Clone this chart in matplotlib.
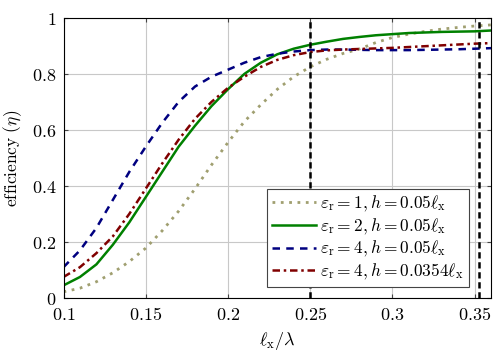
import matplotlib
matplotlib.use("Agg")
import matplotlib.pyplot as plt

plt.rcParams["mathtext.fontset"] = "cm"
plt.rcParams["font.family"] = "serif"
plt.rcParams["font.serif"] = ["DejaVu Serif"]

# x = l_x / lambda
x = [0.10, 0.11, 0.12, 0.13, 0.14, 0.15, 0.16, 0.17, 0.18, 0.19, 0.20, 0.21, 0.22, 0.23,
     0.24, 0.25, 0.26, 0.27, 0.28, 0.29, 0.30, 0.31, 0.32, 0.33, 0.34, 0.35, 0.36]

eff_er1 = [0.022, 0.035, 0.058, 0.09, 0.13, 0.178, 0.24, 0.31, 0.39, 0.475, 0.555, 0.63, 0.69, 0.745,
           0.79, 0.825, 0.852, 0.873, 0.889, 0.912, 0.93, 0.942, 0.952, 0.96, 0.966, 0.971, 0.975]
eff_er2 = [0.045, 0.075, 0.12, 0.19, 0.27, 0.36, 0.45, 0.54, 0.615, 0.685, 0.745, 0.80, 0.84, 0.87,
           0.89, 0.904, 0.915, 0.925, 0.932, 0.938, 0.942, 0.946, 0.948, 0.95, 0.951, 0.952, 0.955]
eff_er4 = [0.11, 0.17, 0.25, 0.35, 0.45, 0.54, 0.625, 0.70, 0.755, 0.79, 0.815, 0.84, 0.86, 0.872,
           0.88, 0.885, 0.887, 0.887, 0.886, 0.885, 0.885, 0.885, 0.886, 0.887, 0.888, 0.89, 0.892]
eff_er4_thin = [0.075, 0.11, 0.16, 0.22, 0.30, 0.39, 0.48, 0.565, 0.64, 0.70, 0.75, 0.79, 0.825, 0.85,
                0.867, 0.878, 0.884, 0.887, 0.889, 0.891, 0.893, 0.896, 0.899, 0.902, 0.905, 0.908, 0.91]

vlines = [0.25, 0.3525]

xticks = [0.1, 0.15, 0.2, 0.25, 0.3, 0.35]
xticklabels = ["0.1", "0.15", "0.2", "0.25", "0.3", "0.35"]
yticks = [0, 0.2, 0.4, 0.6, 0.8, 1]
yticklabels = ["0", "0.2", "0.4", "0.6", "0.8", "1"]

fig = plt.figure(figsize=(5, 3.51), dpi=100)
ax = fig.add_axes([0.127, 0.151, 0.855, 0.798])

ax.plot(x, eff_er1, color="#a09f70", linestyle=(0, (1, 2)), linewidth=2,
        label=r"$\varepsilon_\mathrm{r}=1, h=0.05\ell_\mathrm{x}$")
ax.plot(x, eff_er2, color="#008000", linestyle="-", linewidth=1.8,
        label=r"$\varepsilon_\mathrm{r}=2, h=0.05\ell_\mathrm{x}$")
ax.plot(x, eff_er4, color="#000080", linestyle=(0, (3, 2.5)), linewidth=1.8,
        label=r"$\varepsilon_\mathrm{r}=4, h=0.05\ell_\mathrm{x}$")
ax.plot(x, eff_er4_thin, color="#800000", linestyle=(0, (3, 1.5, 1, 1.5)), linewidth=1.8,
        label=r"$\varepsilon_\mathrm{r}=4, h=0.0354\ell_\mathrm{x}$")

for v in vlines:
    ax.axvline(v, color="black", linestyle=(0, (2.5, 1.5)), linewidth=1.8)

ax.set_xlim(0.1, 0.36)
ax.set_ylim(0, 1)
ax.set_xticks(xticks)
ax.set_xticklabels(["$" + t + "$" for t in xticklabels], fontsize=13)
ax.set_yticks(yticks)
ax.set_yticklabels(["$" + t + "$" for t in yticklabels], fontsize=13)
ax.tick_params(direction="in", length=3, top=True, right=True, color="#444444")
ax.tick_params(axis="x", pad=6)
ax.tick_params(axis="y", pad=5)
ax.grid(True, color="#c8c8c8", linewidth=0.8)
ax.set_axisbelow(True)

ax.set_xlabel(r"$\ell_\mathrm{x}/\lambda$", fontsize=13, labelpad=4)
ax.set_ylabel(r"$\mathrm{efficiency}\ (\eta)$", fontsize=12.5, labelpad=6)

leg = ax.legend(loc="lower right", bbox_to_anchor=(0.96, 0.02), fontsize=12.5,
                fancybox=False, framealpha=1, edgecolor="#444444",
                handlelength=2.5, handletextpad=0.25, borderpad=0.3, labelspacing=0.15,
                borderaxespad=0.3)
leg.get_frame().set_linewidth(0.8)

fig.savefig("out.png", dpi=100)
